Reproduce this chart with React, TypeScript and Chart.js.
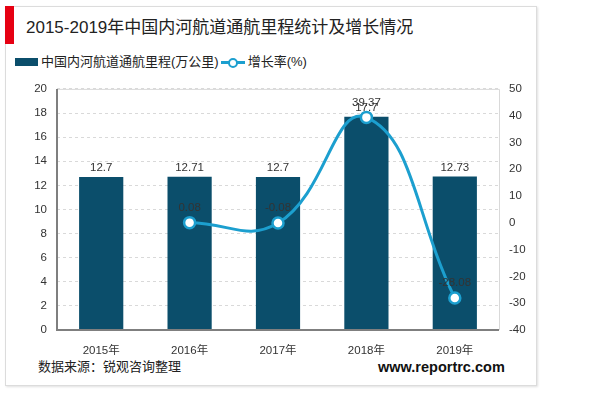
import React, { useEffect, useRef } from "react";
import { Chart, registerables } from "chart.js";
Chart.register(...registerables);

const categories = ["2015年", "2016年", "2017年", "2018年", "2019年"];
const mileage = [12.7, 12.71, 12.7, 17.7, 12.73];
const growth: (number | null)[] = [null, 0.08, -0.08, 39.37, -28.08];
const mileageLabels = ["12.7", "12.71", "12.7", "17.7", "12.73"];
const growthLabels = ["", "0.08", "-0.08", "39.37", "-28.08"];
const leftTicks = [0, 20, 2];
const rightTicks = [-40, 50, 10];

const FONT = '"Liberation Sans", Arial, "Noto Sans CJK SC", sans-serif';
const BAR_COLOR = "#0b4e6b";
const LINE_COLOR = "#1c9fcf";

const labelPlugin = {
  id: "labels",
  afterDatasetsDraw(chart: any) {
    const ctx = chart.ctx;
    ctx.save();
    ctx.font = `11.5px ${FONT}`;
    ctx.fillStyle = "#333";
    ctx.textAlign = "center";
    ctx.textBaseline = "bottom";
    const barMeta = chart.getDatasetMeta(1);
    barMeta.data.forEach((el: any, i: number) => {
      ctx.fillText(mileageLabels[i], el.x, el.y - 3);
    });
    const lineMeta = chart.getDatasetMeta(0);
    lineMeta.data.forEach((el: any, i: number) => {
      if (growth[i] === null) return;
      ctx.fillText(growthLabels[i], el.x, el.y - 9);
    });
    ctx.restore();
  },
  afterDraw(chart: any) {
    const { ctx, chartArea: a } = chart;
    ctx.save();
    ctx.setLineDash([]);
    ctx.strokeStyle = "#d9d9d9";
    ctx.lineWidth = 1;
    ctx.beginPath();
    ctx.moveTo(a.left, a.top + 0.5);
    ctx.lineTo(a.right + 0.5, a.top + 0.5);
    ctx.lineTo(a.right + 0.5, a.bottom);
    ctx.stroke();
    ctx.strokeStyle = "#7f7f7f";
    ctx.lineWidth = 2;
    ctx.beginPath();
    ctx.moveTo(a.left, a.top);
    ctx.lineTo(a.left, a.bottom);
    ctx.lineTo(a.right, a.bottom);
    ctx.stroke();
    ctx.restore();
  },
};

export default function App() {
  const ref = useRef<HTMLCanvasElement>(null);
  useEffect(() => {
    const chart = new Chart(ref.current!, {
      type: "bar",
      data: {
        labels: categories,
        datasets: [
          {
            type: "line",
            label: "增长率(%)",
            data: growth,
            yAxisID: "y1",
            borderColor: LINE_COLOR,
            borderWidth: 3,
            pointRadius: 5.5,
            pointBorderWidth: 2.5,
            pointBackgroundColor: "#fff",
            pointBorderColor: LINE_COLOR,
            tension: 0.45,
            order: 0,
            clip: false as any,
          } as any,
          {
            type: "bar",
            label: "中国内河航道通航里程(万公里)",
            data: mileage,
            yAxisID: "y",
            backgroundColor: BAR_COLOR,
            categoryPercentage: 1,
            barPercentage: 0.5,
            order: 1,
          },
        ],
      },
      options: {
        responsive: false,
        animation: false,
        layout: { padding: { top: 12, left: 0, right: 0, bottom: 0 } },
        plugins: { legend: { display: false }, tooltip: { enabled: false } },
        scales: {
          x: {
            grid: { display: false },
            border: { display: false },
            ticks: { color: "#333", font: { family: FONT, size: 11.5 }, padding: 6 },
            afterFit: (s: any) => { s.height = 27; },
          },
          y: {
            position: "left",
            min: leftTicks[0],
            max: leftTicks[1],
            ticks: { stepSize: leftTicks[2], color: "#333", font: { family: FONT, size: 11.5 }, padding: 10 },
            grid: { color: "#d9d9d9", drawTicks: false },
            border: { display: false, dash: [3, 3] },
            afterFit: (s: any) => { s.width = 52; },
          },
          y1: {
            position: "right",
            min: rightTicks[0],
            max: rightTicks[1],
            ticks: { stepSize: rightTicks[2], color: "#333", font: { family: FONT, size: 11.5 }, padding: 10 },
            grid: { display: false, drawTicks: false },
            border: { display: false },
            afterFit: (s: any) => { s.width = 37; },
          },
        },
      },
      plugins: [labelPlugin],
    } as any);
    return () => chart.destroy();
  }, []);

  return (
    <div style={{ position: "absolute", left: 0, top: 0, width: 600, height: 394, background: "#fff", fontFamily: FONT }}>
      <div style={{ position: "absolute", left: 5, top: 6, width: 530, height: 378, border: "1px solid #dcdcdc", boxShadow: "1px 1px 2px rgba(0,0,0,0.12)" }} />
      <div style={{ position: "absolute", left: 5, top: 6, width: 9, height: 38, background: "#e60012" }} />
      <div style={{ position: "absolute", left: 26, top: 16, fontSize: 17, color: "#222", whiteSpace: "nowrap", lineHeight: "24px" }}>
        2015-2019年中国内河航道通航里程统计及增长情况
      </div>
      <div style={{ position: "absolute", left: 15, top: 53, fontSize: 13, color: "#222", whiteSpace: "nowrap", lineHeight: "18px", display: "flex", alignItems: "center" }}>
        <span style={{ display: "inline-block", width: 23, height: 8, background: BAR_COLOR, marginRight: 3 }} />
        <span>中国内河航道通航里程(万公里)</span>
        <span style={{ position: "relative", display: "inline-block", width: 24, height: 12, marginLeft: 2, marginRight: 3 }}>
          <span style={{ position: "absolute", left: 0, top: 5, width: 24, height: 3, background: LINE_COLOR }} />
          <span style={{ position: "absolute", left: 7, top: 1.5, width: 6, height: 6, borderRadius: "50%", background: "#fff", border: `2px solid ${LINE_COLOR}` }} />
        </span>
        <span>增长率(%)</span>
      </div>
      <canvas ref={ref} width={531} height={285} style={{ position: "absolute", left: 5, top: 72, width: 531, height: 285 }} />
      <div style={{ position: "absolute", left: 38, top: 358, fontSize: 13, color: "#222", whiteSpace: "nowrap", lineHeight: "18px" }}>
        数据来源：锐观咨询整理
      </div>
      <div style={{ position: "absolute", left: 378, top: 357, fontSize: 14.5, fontWeight: "bold", color: "#111", whiteSpace: "nowrap", lineHeight: "20px" }}>
        www.reportrc.com
      </div>
    </div>
  );
}
